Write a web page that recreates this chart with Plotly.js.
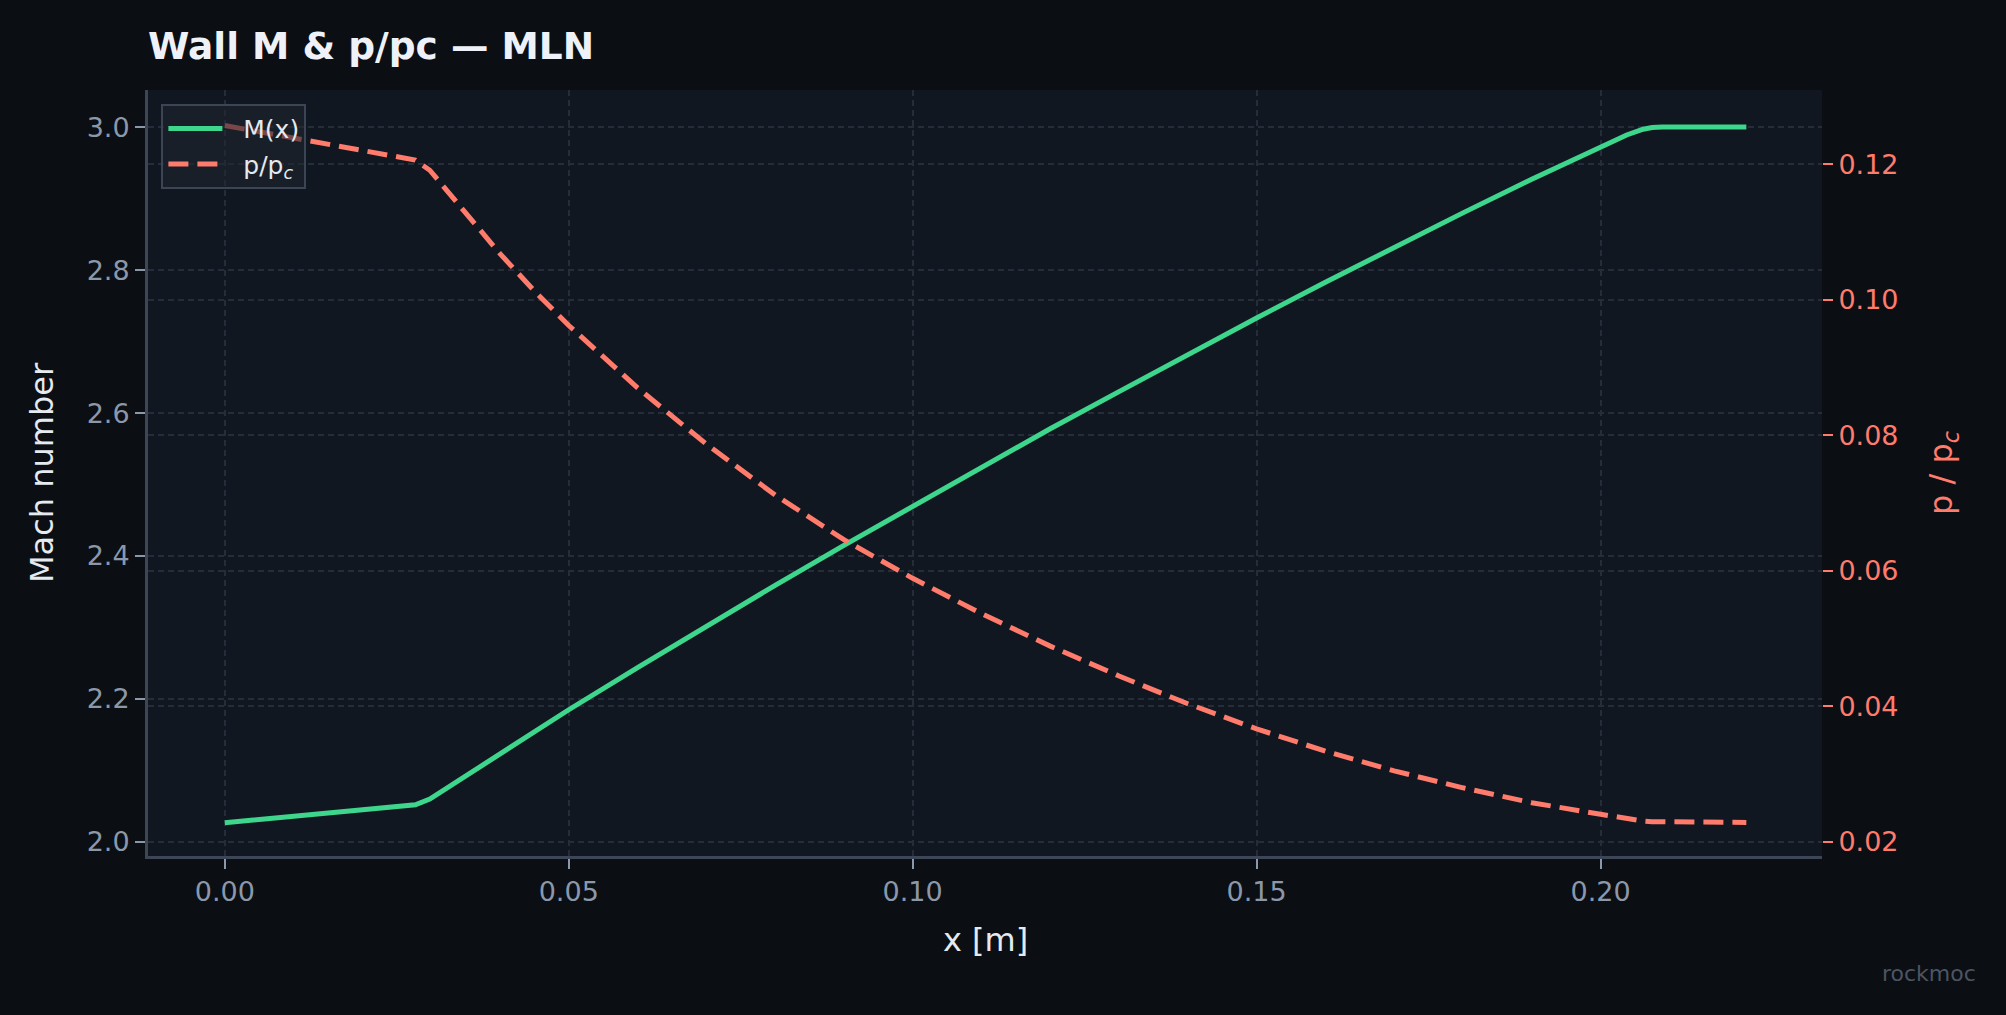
<!DOCTYPE html>
<html>
<head>
<meta charset="utf-8">
<script src="https://cdn.plot.ly/plotly-3.0.1.min.js"></script>
<style>
  html, body { margin: 0; padding: 0; background: #0b0e13; }
  #chart { width: 2006px; height: 1015px; }
</style>
</head>
<body>
<div id="chart"></div>
<script>
// wall position along the nozzle [m]
const xPos = [0, 0.0277, 0.0298, 0.035, 0.04, 0.045, 0.05, 0.06, 0.07, 0.08, 0.09, 0.10,
  0.11, 0.12, 0.13, 0.14, 0.15, 0.16, 0.17, 0.18, 0.19, 0.20, 0.2038, 0.2062, 0.2075, 0.209, 0.2212];
// wall Mach number
const machVals = [2.027, 2.052, 2.060, 2.092, 2.123, 2.154, 2.185, 2.244, 2.302, 2.359, 2.415, 2.470,
  2.524, 2.578, 2.630, 2.682, 2.733, 2.783, 2.832, 2.880, 2.927, 2.973, 2.989, 2.997, 2.9995, 3.000, 3.000];
// wall static pressure over chamber pressure
const pRatio = [0.1257, 0.1206, 0.1191, 0.1128, 0.1068, 0.1013, 0.0962, 0.0870, 0.0787, 0.0712, 0.0646, 0.0589,
  0.0537, 0.0489, 0.0445, 0.0404, 0.0367, 0.0334, 0.0305, 0.0280, 0.0258, 0.0241, 0.0234, 0.0231, 0.0230, 0.0230, 0.0229];

const FONT = "DejaVu Sans, sans-serif";
const GREEN = "#3dd68c";
const SALMON = "#ff7b6b";
const GRID = "#262d3a";
const TICK = "#8b98aa";

const machTrace = {
  x: xPos,
  y: machVals,
  type: "scatter",
  mode: "lines",
  name: "\u00a0\u00a0M(x)",
  line: { color: GREEN, width: 5 },
  yaxis: "y"
};

const pTrace = {
  x: xPos,
  y: pRatio,
  type: "scatter",
  mode: "lines",
  name: "\u00a0\u00a0p/p<sub><i>c</i></sub>",
  line: { color: SALMON, width: 5, dash: "20px,9px" },
  yaxis: "y2"
};

const layout = {
  width: 2006,
  height: 1015,
  paper_bgcolor: "#0b0e13",
  plot_bgcolor: "#111720",
  font: { family: FONT, color: "#e5e9f0", size: 27 },
  margin: { l: 148, r: 184, t: 90, b: 159 },
  showlegend: true,
  title: {
    text: "<b>Wall M & p/pc — MLN</b>",
    font: { family: FONT, size: 37.5, color: "#eef2f8" },
    xref: "paper",
    x: 0,
    xanchor: "left",
    yref: "container",
    y: 0.955,
    yanchor: "middle"
  },
  xaxis: {
    range: [-0.01117, 0.2322],
    tickvals: [0, 0.05, 0.10, 0.15, 0.20],
    tickformat: ".2f",
    tickfont: { family: FONT, size: 27, color: TICK },
    ticks: "outside",
    ticklen: 10,
    tickwidth: 2,
    tickcolor: TICK,
    showgrid: true,
    gridcolor: GRID,
    gridwidth: 2,
    griddash: "6px,4px",
    zeroline: false,
    showline: true,
    linecolor: "#3d4656",
    linewidth: 3,
    mirror: false
  },
  yaxis: {
    range: [1.9804, 3.0519],
    tickvals: [2.0, 2.2, 2.4, 2.6, 2.8, 3.0],
    tickformat: ".1f",
    tickfont: { family: FONT, size: 27, color: TICK },
    ticks: "outside",
    ticklen: 10,
    tickwidth: 2,
    tickcolor: TICK,
    showgrid: true,
    gridcolor: GRID,
    gridwidth: 2,
    griddash: "6px,4px",
    zeroline: false,
    showline: true,
    linecolor: "#3d4656",
    linewidth: 3
  },
  yaxis2: {
    overlaying: "y",
    side: "right",
    range: [0.01794, 0.13094],
    tickvals: [0.02, 0.04, 0.06, 0.08, 0.10, 0.12],
    tickformat: ".2f",
    tickfont: { family: FONT, size: 27, color: SALMON },
    ticks: "outside",
    ticklen: 10,
    tickwidth: 2,
    tickcolor: SALMON,
    showgrid: true,
    gridcolor: GRID,
    gridwidth: 2,
    griddash: "6px,4px",
    zeroline: false,
    showline: false
  },
  legend: {
    x: 0.008,
    y: 0.982,
    xanchor: "left",
    yanchor: "top",
    bgcolor: "rgba(32,37,48,0.6)",
    bordercolor: "#3b4555",
    borderwidth: 2,
    font: { family: FONT, size: 25, color: "#e5e9f0" },
    itemwidth: 54,
    tracegroupgap: 0
  },
  annotations: [
    {
      text: "Mach number",
      xref: "paper", yref: "paper",
      x: -0.0633, y: 0.5,
      xanchor: "center", yanchor: "middle",
      textangle: -90,
      showarrow: false,
      font: { family: FONT, size: 32, color: "#e5e9f0" }
    },
    {
      text: "p / p<sub><i>c</i></sub>",
      xref: "paper", yref: "paper",
      x: 1.0723, y: 0.5,
      xanchor: "center", yanchor: "middle",
      textangle: -90,
      showarrow: false,
      font: { family: FONT, size: 32, color: SALMON }
    },
    {
      text: "x [m]",
      xref: "paper", yref: "paper",
      x: 0.5, y: -0.1097,
      xanchor: "center", yanchor: "middle",
      showarrow: false,
      font: { family: FONT, size: 32, color: "#e5e9f0" }
    },
    {
      text: "rockmoc",
      xref: "paper", yref: "paper",
      x: 1.0639, y: -0.154,
      xanchor: "center", yanchor: "middle",
      showarrow: false,
      font: { family: FONT, size: 22, color: "#4b5563" }
    }
  ]
};

Plotly.newPlot("chart", [machTrace, pTrace], layout, {
  displayModeBar: false,
  staticPlot: true
});
</script>
</body>
</html>
